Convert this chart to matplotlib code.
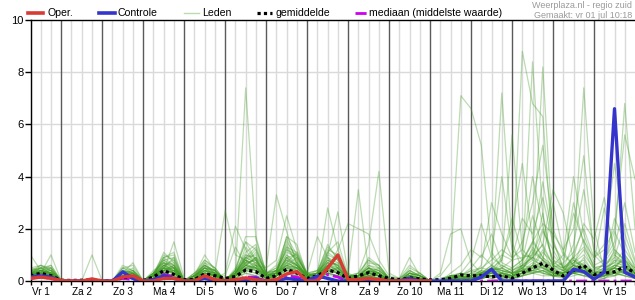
import matplotlib

matplotlib.use("Agg")
import matplotlib.pyplot as plt
from matplotlib.lines import Line2D

plt.rcParams["font.family"] = ["Liberation Sans", "DejaVu Sans"]

# forecast hours since day 1 00:00, one value every 6 hours
HOURS = list(range(6, 361, 6))
DAY_LABELS = ["Vr 1", "Za 2", "Zo 3", "Ma 4", "Di 5", "Wo 6", "Do 7", "Vr 8",
              "Za 9", "Zo 10", "Ma 11", "Di 12", "Wo 13", "Do 14", "Vr 15"]

# operational run only goes to +240h
OPER = [0.1, 0.15, 0.1, 0.02,  0, 0, 0.08, 0,  0, 0.15, 0.2, 0,  0, 0.1, 0.1, 0,
        0, 0.2, 0.05, 0,  0.05, 0.12, 0.05, 0,  0.05, 0.27, 0.36, 0,  0, 0.5, 1.0, 0.05,
        0.05, 0.1, 0.05, 0,  0, 0.02, 0, 0]
CONTROLE = [0.15, 0.2, 0.15, 0,  0, 0, 0, 0,  0, 0.35, 0.1, 0,  0.05, 0.2, 0.1, 0,
            0, 0.1, 0, 0,  0, 0.05, 0.1, 0,  0, 0.1, 0.05, 0,  0.19, 0.1, 0, 0,
            0, 0, 0, 0,  0, 0.1, 0, 0,  0, 0, 0, 0,  0.15, 0.45, 0, 0,
            0, 0, 0, 0,  0, 0.45, 0.36, 0.07,  0.33, 6.6, 0.33, 0.15]
GEMIDDELDE = [0.19, 0.3, 0.2, 0.03,  0.02, 0.03, 0.05, 0.01,  0.02, 0.15, 0.12, 0.02,
              0.15, 0.4, 0.25, 0.05,  0.05, 0.28, 0.2, 0.1,  0.17, 0.42, 0.36, 0.1,
              0.2, 0.45, 0.3, 0.1,  0.2, 0.42, 0.32, 0.1,  0.2, 0.32, 0.2, 0.1,
              0.05, 0.12, 0.08, 0.04,  0.05, 0.1, 0.23, 0.2,  0.2, 0.16, 0.2, 0.1,
              0.3, 0.5, 0.68, 0.42,  0.19, 0.4, 0.6, 0.25,  0.3, 0.35, 0.55, 0.3]
MEDIAAN = [0.1, 0.15, 0.1, 0,  0, 0, 0, 0,  0, 0.1, 0.05, 0,  0.05, 0.25, 0.15, 0,
           0, 0.15, 0.05, 0,  0.05, 0.15, 0.15, 0,  0.05, 0.2, 0.15, 0,  0.05, 0.25, 0.15, 0,
           0.05, 0.1, 0.05, 0,  0, 0, 0, 0,  0, 0, 0, 0,  0, 0, 0, 0,
           0, 0, 0, 0,  0, 0, 0, 0,  0, 0, 0, 0]

# ensemble members (Leden), 4 values per day
LEDEN = [
    [0.3,0.5,0.4,0, 0,0,0,0, 0,0.3,0.2,0, 0.1,0.6,0.4,0, 0,0.3,0.2,0.1, 0.3,7.4,1.6,0.3, 0.2,0.5,0.4,0.1, 0.1,0.4,0.3,0, 0.2,0.3,0.2,0, 0,0.1,0,0, 0,0,0.1,0.1, 0.2,0.1,0,0.1, 0.3,0.4,0.5,0.2, 0.1,0.3,0.4,0.1, 0.2,0.3,0.2,0.1],
    [1.0,0.4,0.3,0, 0,0,0,0, 0,0.2,0.3,0, 0.2,0.5,0.3,0, 0.1,0.4,0.3,2.7, 1.0,0.8,0.5,0.2, 0.3,0.6,0.3,0, 0,0.3,0.5,0.1, 0,0.2,0.1,0, 0,0.2,0.1,0, 0,0.1,0,0, 0.1,0.2,0.3,0.1, 0.2,0.6,1.2,0.4, 0.1,0.2,0.3,0, 0.1,0.4,0.6,0.2],
    [0.2,0.3,1.0,0, 0,0,0,0, 0,0.4,0.3,0, 0.1,0.4,1.5,0.1, 0.1,0.2,0.1,0.3, 2.1,1.2,0.6,0.5, 3.3,1.9,0.6,0.2, 0.2,0.5,0.3,0, 0.1,0.3,0.4,0.1, 0,0,0.1,0, 0,0.2,0.3,0.1, 0.3,0.4,0.2,0.1, 0.2,0.3,0.4,0.3, 0.3,1.0,7.4,2.0, 0.4,0.3,0.2,0.1],
    [0.4,0.5,0.3,0, 0,0,1.0,0, 0,0.2,0.1,0, 0.2,1.1,0.7,0, 0.2,0.6,0.3,0, 0.4,1.7,1.7,0.3, 0.2,0.9,0.6,0.2, 0.3,2.8,1.2,0.2, 0.1,0.4,0.3,0, 0,0.1,0,0, 0,0,0.1,0, 0.2,0.5,0.3,0.2, 0.4,0.3,0.6,0.2, 0.2,0.4,0.3,0.1, 0.3,0.5,0.4,0.2],
    [0.3,0.3,0.2,0, 0,0,0,0, 0,0.1,0.2,0, 0.1,0.3,0.2,0, 0.1,0.2,0.1,0, 0.2,0.4,0.3,0.1, 0.1,0.4,0.5,0.1, 0.2,0.6,0.4,0, 0.2,0.5,0.2,0, 0,0.2,0.1,0, 0,0.1,0.2,0.1, 0.3,0.2,0.1,0.3, 8.8,6.8,6.3,1.0, 0.5,0.3,0.4,0.2, 0.1,0.2,0.5,0.3],
    [0.2,0.4,0.5,0, 0,0,0,0, 0,0.3,0.4,0, 0.3,0.7,0.5,0, 0.1,0.5,0.4,0, 0.2,0.6,0.9,0.2, 0.4,1.2,0.8,0.1, 0.2,1.0,2.65,0.3, 0.1,0.2,0.2,0, 0,0.3,0.1,0, 0,0,0.1,0.2, 0.4,0.3,0.2,0.1, 0.5,0.3,0.4,0.2, 0.3,0.6,0.5,0.1, 0.2,0.4,0.3,0.2],
    [0.3,0.2,0.3,0, 0,0,0,0, 0,0.2,0.1,0, 0.2,0.4,0.6,0, 0.2,0.3,0.2,0, 0.1,0.5,0.7,0.3, 0.5,1.4,0.7,0.2, 0.3,0.5,1.2,2.2, 2.0,1.8,0.8,0.2, 0.1,0.3,0.2,0, 0,0.1,0,0, 0.2,0.3,0.4,0.2, 0.3,0.5,0.4,0.2, 0.4,0.3,0.2,0.2, 0.3,0.2,0.4,0.1],
    [0.5,0.6,0.4,0, 0,0,0.1,0, 0,0.1,0.2,0, 0.1,0.3,0.2,0, 0,0.2,0.1,0, 0.3,0.8,0.6,0.1, 0.2,0.6,0.9,0.3, 0.4,0.7,0.6,0.3, 3.5,0.4,0.3,0.1, 0,0.2,0.3,0, 0,0,0,0.1, 0.1,0.2,0.1,0, 0.2,0.4,0.8,0.5, 0.2,0.3,0.2,0.1, 0.1,0.3,0.2,0.1],
    [0.2,0.3,0.2,0, 0,0,0,0, 0,0.5,0.3,0, 0.3,0.8,0.5,0, 0.1,0.7,0.3,0.1, 0.2,1.3,0.8,0.2, 0.3,0.7,1.1,0.3, 0.2,0.8,0.6,0.1, 0.3,1.4,4.2,0.3, 0.1,0.4,0.2,0, 0,0.1,0.1,0, 0.2,0.1,0.2,0.1, 0.6,0.9,0.5,0.3, 0.2,0.4,0.3,0.2, 0.3,0.5,0.3,0.2],
    [0.1,0.2,0.3,0, 0,0,0,0, 0,0.2,0.1,0, 0.1,0.2,0.3,0, 0,0.1,0.2,0, 0.1,0.3,0.2,0, 0.2,0.3,0.2,0, 0.1,0.3,0.2,0, 0.1,0.2,0.1,0, 0,0.1,0.2,0, 0.2,0.7,7.1,6.6, 5.2,1.1,0.5,0.3, 0.4,0.6,0.3,0.2, 0.3,0.5,0.4,0.2, 0.2,0.3,0.4,0.2],
    [0.3,0.4,0.6,0, 0,0,0,0, 0,0.3,0.7,0, 0.2,0.9,0.6,0, 0.2,1.0,0.4,0, 0.3,0.9,1.3,0.2, 0.3,1.7,1.4,0.2, 0.2,0.7,0.5,0.1, 0.1,0.3,0.2,0, 0.1,0.9,0.2,0, 0.3,1.8,2.0,0.7, 0.3,0.2,0.1,0.2, 0.3,0.4,0.6,0.3, 0.2,0.3,0.5,0.2, 0.2,0.5,0.4,0.1],
    [0.2,0.3,0.3,0, 0,0,0,0, 0,0.2,0.2,0, 0.1,0.5,0.4,0, 0.1,0.3,0.2,0, 0.2,0.5,0.4,0.1, 0.3,0.8,0.4,0.1, 0.1,0.4,0.3,0, 0.2,0.3,0.5,0.1, 0,0.1,0.1,0, 0,0,0.1,0.3, 0.2,0.5,7.2,1.5, 0.4,1.1,0.8,0.3, 0.2,0.6,0.4,0.2, 0.4,0.5,0.3,0.2],
    [0.4,0.4,0.3,0, 0,0,0,0, 0,0.3,0.2,0, 0.2,0.6,0.5,0, 0.2,0.4,0.2,0, 0.3,0.9,0.7,0.2, 0.4,1.0,0.6,0.1, 0.2,0.6,0.4,0.1, 0.1,0.4,0.3,0, 0,0.2,0.1,0, 0,0.1,0.2,0.4, 0.3,0.3,0.8,5.6, 1.2,0.8,2.6,0.5, 0.3,0.4,0.6,0.2, 0.3,0.8,0.5,0.2],
    [0.3,0.2,0.2,0, 0,0,0,0, 0,0.1,0.1,0, 0.1,0.3,0.4,0, 0.1,0.3,0.2,0, 0.2,0.6,0.5,0.2, 0.2,0.5,0.4,0.2, 0.3,0.5,0.3,0.1, 0.2,0.3,0.2,0, 0,0.1,0,0, 0,0,0.2,0.3, 0.5,0.4,0.3,0.2, 0.6,8.4,2.5,0.6, 0.4,0.8,0.5,0.2, 0.3,0.6,0.5,0.3],
    [0.3,0.5,0.3,0, 0,0,0,0, 0,0.2,0.2,0, 0.2,0.5,0.3,0, 0.1,0.5,0.3,0, 0.3,0.7,0.4,0.1, 0.2,0.6,0.5,0.2, 0.2,0.4,0.5,0.1, 0.1,0.2,0.1,0, 0,0.2,0.1,0, 0.1,0.2,0.1,0.2, 0.3,0.4,0.5,0.8, 0.9,1.0,8.2,1.5, 0.5,0.7,1.2,0.4, 0.2,0.6,0.8,0.3],
    [0.2,0.2,0.3,0, 0,0,0,0, 0,0.3,0.3,0, 0.3,0.6,0.8,0, 0.1,0.4,0.3,0, 0.2,0.6,0.9,0.2, 0.2,0.9,1.0,0.2, 0.3,0.8,0.6,0.1, 0.2,0.5,0.3,0, 0,0.1,0,0, 0,0.1,0,0.1, 0.3,0.6,1.0,0.8, 1.5,3.0,5.2,2.0, 1.0,0.6,0.8,0.3, 0.4,0.9,0.6,0.3],
    [0.3,0.4,0.2,0, 0,0,0,0, 0,0.4,0.3,0, 0.2,0.7,0.3,0, 0.2,0.5,0.2,0, 0.4,1.0,0.8,0.2, 0.3,1.3,0.7,0.1, 0.2,0.9,0.5,0.1, 0.1,0.3,0.2,0, 0,0.3,0.1,0, 0,0.1,0.1,0, 0.1,0.2,0.3,0.5, 0.8,1.5,2.2,1.8, 1.2,2.0,4.8,1.0, 0.6,1.1,0.8,0.3],
    [0.2,0.4,0.4,0, 0,0,0,0, 0,0.2,0.4,0, 0.2,0.4,0.5,0, 0.1,0.6,0.4,0, 0.3,0.6,0.5,0.1, 0.2,0.7,0.5,0.2, 0.2,0.6,0.7,0.1, 0.2,0.5,0.4,0.1, 0,0.2,0.1,0, 0,0.2,0.3,0.2, 0.4,0.3,0.5,0.3, 0.6,0.5,1.1,0.7, 0.5,0.9,1.3,0.6, 0.8,1.5,6.8,2.0],
    [0.3,0.3,0.5,0, 0,0,0,0, 0,0.2,0.3,0, 0.1,0.5,0.9,0, 0.3,0.8,0.5,0, 0.2,0.7,1.1,0.3, 0.4,0.8,0.6,0.2, 0.3,1.0,0.8,0.2, 0.2,0.6,0.5,0.1, 0,0.3,0.2,0, 0,0.1,0.2,0.4, 0.5,0.8,1.2,0.9, 2.4,1.8,3.2,1.4, 0.8,2.6,1.5,0.9, 1.2,2.0,5.6,3.9],
    [0.4,0.6,0.5,0, 0,0,0,0, 0,0.6,0.4,0, 0.3,1.0,0.8,0, 0.2,0.5,0.4,0, 0.5,1.5,1.2,0.3, 0.6,1.6,0.8,0.3, 0.4,1.3,0.9,0.2, 0.3,0.8,0.5,0.1, 0,0.4,0.2,0, 0,0.1,0.3,0.2, 0.6,3.0,1.8,0.9, 1.2,4.0,2.1,0.8, 0.6,3.0,1.4,0.5, 0.4,1.2,0.8,0.3],
    [0.2,0.3,0.2,0, 0,0,0,0, 0,0.2,0.2,0, 0.2,0.5,0.4,0, 0.1,0.3,0.2,0, 0.2,0.5,0.6,0.2, 0.3,0.9,0.5,0.2, 0.2,0.7,0.9,0.2, 0.1,0.3,0.2,0, 0,0.2,0.1,0, 0,0,0.1,0.1, 0.2,0.4,0.9,2.0, 4.5,1.6,0.9,0.5, 0.4,0.9,2.2,1.6, 3.2,1.0,0.6,0.4],
    [0.3,0.3,0.4,0, 0,0,0,0, 0,0.3,0.2,0, 0.1,0.6,0.3,0, 0.2,0.4,0.3,0, 0.3,0.6,0.4,0.1, 0.2,0.4,0.3,0.1, 0.1,0.3,0.2,0, 0.1,0.2,0.1,0, 0,0.1,0,0, 0,0.2,0.2,0.1, 0.3,0.5,0.8,2.4, 1.0,0.9,1.4,3.5, 2.6,0.8,0.5,0.3, 0.5,0.7,1.2,0.6],
    [0.2,0.3,0.2,0, 0,0,0,0, 0,0.1,0.3,0, 0.2,0.3,0.4,0, 0.1,0.3,0.2,0, 0.2,0.5,0.4,0.2, 0.3,0.6,0.4,0.1, 0.2,0.5,0.4,0.1, 0.1,0.4,0.3,0, 0,0.1,0.1,0, 0,0,0,0.1, 0.2,0.3,0.2,0.4, 0.6,1.2,0.8,0.5, 0.7,1.1,2.0,0.9, 1.4,4.5,1.8,0.7],
    [0.3,0.4,0.3,0, 0,0,0,0, 0,0.2,0.1,0, 0.3,0.4,0.3,0, 0.1,0.2,0.2,0, 0.2,0.4,0.5,0.1, 0.4,0.5,0.3,0.1, 0.2,0.3,0.2,0.1, 0.2,0.3,0.2,0, 0,0.1,0,0, 0,0.2,0.1,0.1, 0.4,1.0,4.0,1.2, 0.8,1.4,3.8,1.6, 0.5,0.9,0.6,0.4, 0.6,2.4,1.5,0.5],
    [0.1,0.2,0.3,0, 0,0,0,0, 0,0.2,0.3,0, 0.1,0.4,0.6,0, 0.2,0.4,0.3,0, 0.3,0.7,0.8,0.2, 0.2,0.5,0.6,0.2, 0.3,0.6,0.4,0.1, 0.2,0.3,0.2,0, 0,0.2,0.1,0, 0,0.3,0.6,1.2, 0.9,1.8,0.7,0.5, 0.8,2.5,1.3,0.6, 0.5,1.4,3.5,1.2, 0.7,1.3,3.0,1.1],
    [0.4,0.3,0.2,0, 0,0,0,0, 0,0.4,0.3,0, 0.2,0.6,0.4,0, 0.3,0.6,0.3,0, 0.4,0.8,0.6,0.2, 0.3,0.7,0.5,0.1, 0.2,0.4,0.3,0.1, 0.2,0.3,0.2,0, 0,0.2,0.1,0, 0,0.1,0.3,0.8, 2.2,0.9,0.6,0.4, 0.7,1.5,0.9,0.6, 1.0,4.0,1.8,0.7, 2.8,1.2,0.8,0.5],
    [0.2,0.2,0.1,0, 0,0,0,0, 0,0.1,0.1,0, 0.1,0.3,0.2,0, 0.1,0.2,0.1,0, 0.1,0.3,0.2,0.1, 0.1,0.3,0.2,0, 0.1,0.2,0.2,0, 0.1,0.2,0.1,0, 0,0.1,0,0, 0,0,0,0, 0.1,0.2,0.1,0.2, 0.3,0.4,0.3,0.2, 0.2,0.3,0.4,0.1, 0.2,0.4,0.3,0.2],
    [0.3,0.4,0.3,0, 0,0,0.1,0, 0,0.2,0.3,0, 0.2,0.8,0.6,0, 0.2,0.5,0.4,0, 0.3,0.9,1.0,0.3, 0.5,1.1,0.9,0.2, 0.3,0.9,0.7,0.2, 0.2,0.6,0.4,0.1, 0,0.3,0.2,0, 0,0.1,0.1,0.2, 0.3,0.6,0.4,0.3, 0.5,1.0,2.0,0.8, 0.4,0.7,1.0,0.5, 0.6,0.9,2.2,0.8],
    [0.2,0.3,0.2,0, 0,0,0,0, 0,0.3,0.2,0, 0.1,0.4,0.3,0, 0.1,0.4,0.2,0, 0.2,0.4,0.6,0.2, 0.2,0.6,0.7,0.2, 0.1,0.5,0.3,0, 0.1,0.3,0.3,0, 0,0.1,0.1,0, 0,0.1,0,0, 0.1,0.2,0.3,0.2, 0.4,0.5,0.8,3.0, 1.1,0.6,0.4,0.3, 0.4,0.5,1.0,0.5],
    [0.3,0.6,0.4,0, 0,0,0,0, 0,0.5,0.6,0, 0.3,0.9,1.0,0, 0.2,0.8,0.5,0, 0.3,1.0,0.9,0.2, 0.4,1.2,1.0,0.2, 0.3,1.4,0.8,0.2, 0.2,0.7,0.6,0.1, 0.1,0.6,0.3,0, 0,0.1,0.1,0, 0.2,0.3,0.2,0.1, 0.3,0.5,0.6,0.4, 0.3,0.6,0.4,0.2, 0.4,0.6,0.5,0.3],
    [0.2,0.4,0.3,0, 0,0,0,0, 0,0.2,0.2,0, 0.2,0.6,0.7,0, 0.1,0.3,0.3,0, 0.2,0.7,0.8,0.2, 0.3,1.5,0.9,0.3, 0.2,1.1,1.5,0.2, 0.2,0.5,0.3,0.1, 0,0.2,0.1,0, 0,0.2,0.2,0.5, 1.0,0.6,0.3,0.2, 0.3,0.6,1.9,1.2, 0.5,0.8,0.6,0.3, 0.7,1.9,1.0,0.4],
    [0.3,0.3,0.4,0, 0,0,0,0, 0,0.3,0.4,0, 0.2,0.7,0.6,0, 0.2,0.5,0.2,0, 0.2,0.8,0.5,0.2, 0.3,0.9,0.6,0.2, 0.3,0.8,0.6,0.1, 0.2,0.5,0.3,0, 0,0.2,0.1,0, 0,0.1,0.1,0.1, 0.2,0.4,0.6,0.4, 0.6,0.9,0.7,0.4, 0.3,0.5,0.7,0.2, 0.3,0.5,0.9,0.4],
    [0.4,0.5,0.5,0, 0,0,0,0, 0,0.3,0.5,0, 0.2,0.9,1.1,0, 0.2,0.6,0.4,0, 0.4,1.1,1.4,0.3, 0.4,1.0,0.7,0.2, 0.4,1.1,0.8,0.2, 0.3,0.8,0.6,0.1, 0,0.5,0.3,0, 0,0,0.1,0.1, 0.2,0.3,0.2,0.2, 0.4,0.7,0.5,0.3, 0.3,0.4,0.9,0.3, 0.5,0.7,0.6,0.2],
    [0.2,0.3,0.3,0, 0,0,0,0, 0,0.2,0.2,0, 0.1,0.5,0.5,0, 0.1,0.4,0.3,0, 0.2,0.5,0.5,0.1, 0.2,0.5,0.5,0.1, 0.1,0.4,0.4,0.1, 0.1,0.2,0.3,0, 0,0.1,0.1,0, 0,0,0.1,0, 0.1,0.2,0.2,0.1, 0.2,0.3,0.4,0.2, 0.2,0.4,0.3,0.1, 0.2,0.3,0.4,0.2],
    [0.3,0.2,0.2,0, 0,0,0,0, 0,0.1,0.2,0, 0.1,0.4,0.3,0, 0.1,0.3,0.2,0.2, 1.3,0.6,0.9,0.5, 0.8,2.5,1.2,0.3, 0.2,0.6,0.5,0.1, 0.1,0.3,0.2,0, 0,0.2,0.1,0, 0,0.1,0.2,0.1, 0.3,0.5,0.4,0.3, 0.4,0.6,0.5,0.3, 0.3,0.6,0.5,0.2, 0.3,0.4,0.6,0.2],
    [0.2,0.4,0.3,0, 0,0,0,0, 0,0.2,0.2,0, 0.2,0.4,0.5,0, 0.1,0.3,0.2,0, 0.2,0.6,0.5,0.2, 0.3,0.6,0.5,0.3, 1.7,0.9,0.5,0.2, 0.2,0.4,0.2,0, 0,0.3,0.2,0, 0,0.1,0.1,0.1, 0.2,0.3,0.2,0.2, 0.3,0.4,0.3,0.2, 0.2,0.3,0.5,0.2, 0.3,0.5,0.4,0.2],
    [0.3,0.3,0.2,0, 0,0,0,0, 0,0.2,0.1,0, 0.3,0.5,0.3,0, 0.2,0.5,0.3,0, 0.4,1.5,0.8,0.2, 0.3,1.7,1.0,0.2, 0.2,0.7,0.4,0.1, 0.2,0.4,0.3,0, 0,0.2,0.1,0, 0,0.2,0.1,0, 0.2,0.4,0.3,0.2, 0.5,0.8,0.6,0.3, 0.3,0.5,0.4,0.2, 0.4,0.6,0.5,0.2],
    [0.5,0.4,0.3,0, 0,0,0,0, 0,0.4,0.2,0, 0.4,0.7,0.5,0, 0.3,0.6,0.4,0, 0.3,0.9,0.7,0.2, 0.2,0.8,0.6,0.1, 0.2,0.6,0.9,0.2, 0.2,0.5,0.4,0.1, 0,0.3,0.2,0, 0,0.1,0.1,0.2, 0.3,0.4,0.5,0.3, 0.5,0.9,1.4,0.6, 0.4,0.6,1.6,0.5, 0.6,1.0,0.7,0.3],
    [0.1,0.2,0.2,0, 0,0,0,0, 0,0.1,0.2,0, 0.1,0.3,0.4,0, 0.1,0.2,0.1,0, 0.1,0.4,0.3,0.1, 0.2,0.4,0.3,0.1, 0.1,0.3,0.2,0, 0.1,0.2,0.2,0, 0,0.1,0,0, 0,0,0.1,0.1, 0.1,0.2,0.3,0.1, 0.2,0.3,0.2,0.2, 0.2,0.3,0.2,0.1, 0.2,0.2,0.3,0.1],
    [0.3,0.5,0.6,0, 0,0,0,0, 0,0.5,0.4,0, 0.3,0.8,0.9,0, 0.2,0.7,0.5,0, 0.3,0.8,1.2,0.3, 0.4,1.3,1.1,0.2, 0.3,1.2,1.0,0.2, 0.2,0.9,0.6,0.1, 0.1,0.4,0.2,0, 0,0.2,0.2,0.1, 0.2,0.5,0.4,0.3, 0.4,1.3,0.8,0.4, 0.3,0.7,0.6,0.3, 0.4,0.8,0.7,0.3],
]

RED = "#d83a34"
BLUE = "#3535cc"
MAGENTA = "#cc00ee"
GREEN = "#3f9a22"
GRID_LIGHT = "#dadada"
GRID_DAY = "#5a5a5a"

W, H = 635, 300
fig = plt.figure(figsize=(W / 100, H / 100), dpi=100)
ax = fig.add_axes([30.5 / W, 19 / H, (W - 30.5) / W, 261 / H])

# grid: light lines every 6 hours, dark lines at midnight
for h in HOURS[:-1]:
    if h % 24 == 0:
        ax.axvline(h, color=GRID_DAY, lw=1.0, zorder=1)
    else:
        ax.axvline(h, color=GRID_LIGHT, lw=1.0, zorder=0)
for yv in [2, 4, 6, 8]:
    ax.axhline(yv, color=GRID_LIGHT, lw=1.0, zorder=0)

for member in LEDEN:
    ax.plot(HOURS, member, color=GREEN, lw=0.9, alpha=0.35, zorder=2)

ax.plot(HOURS, MEDIAAN, color=MAGENTA, lw=2.0, ls=(0, (4, 1.5, 1, 1.5)), zorder=3)
ax.plot(HOURS, GEMIDDELDE, color="black", lw=2.3, ls=(0, (1, 1)), zorder=4)
ax.plot(HOURS, CONTROLE, color=BLUE, lw=2.4, zorder=5)
ax.plot(HOURS[:len(OPER)], OPER, color=RED, lw=2.4, zorder=6)

ax.set_xlim(6, 360)
ax.set_ylim(0, 10)
ax.set_yticks([0, 2, 4, 6, 8, 10])
ax.set_xticks(HOURS)
ax.set_xticklabels([])
ax.tick_params(axis="x", length=3, width=1, color="black")
ax.tick_params(axis="y", length=4, width=1, labelsize=8, pad=1)
for side in ["right"]:
    ax.spines[side].set_visible(False)
for side in ["left", "bottom", "top"]:
    ax.spines[side].set_color("black")
    ax.spines[side].set_linewidth(1.0)

for k, label in enumerate(DAY_LABELS):
    ax.text(12 + 24 * k, -0.022, label, transform=ax.get_xaxis_transform(),
            ha="center", va="top", fontsize=7.2)

# legend drawn in pixel positions along the top
def px(x, y):
    return x / W, 1 - y / H


def legend_line(x0, x1, y, **kw):
    (a, b), (c, d) = px(x0, y), px(x1, y)
    fig.add_artist(Line2D([a, c], [b, d], transform=fig.transFigure, **kw))


LEG_Y = 13
legend_line(28, 43, LEG_Y, color=RED, lw=2.6)
fig.text(*px(47, LEG_Y), "Oper.", fontsize=7.6, va="center")
legend_line(99, 115, LEG_Y, color=BLUE, lw=2.6)
fig.text(*px(118, LEG_Y), "Controle", fontsize=7.6, va="center")
legend_line(184, 199, LEG_Y, color="#b8dcaa", lw=1.0)
fig.text(*px(202, LEG_Y), "Leden", fontsize=7.6, va="center")
legend_line(257, 272, LEG_Y, color="black", lw=2.3, ls=(0, (1, 1)))
fig.text(*px(276, LEG_Y), "gemiddelde", fontsize=7.6, va="center")
legend_line(355, 368, LEG_Y, color=MAGENTA, lw=2.0, ls=(0, (4, 1.5, 1, 1.5)))
fig.text(*px(369, LEG_Y), "mediaan (middelste waarde)", fontsize=7.6, va="center")

fig.text(*px(632, 5), "Weerplaza.nl - regio zuid", fontsize=6.5, color="#9a9a9a",
         ha="right", va="center")
fig.text(*px(632, 15), "Gemaakt: vr 01 jul 10:18", fontsize=6.5, color="#9a9a9a",
         ha="right", va="center")

fig.savefig("out.png", dpi=100)
